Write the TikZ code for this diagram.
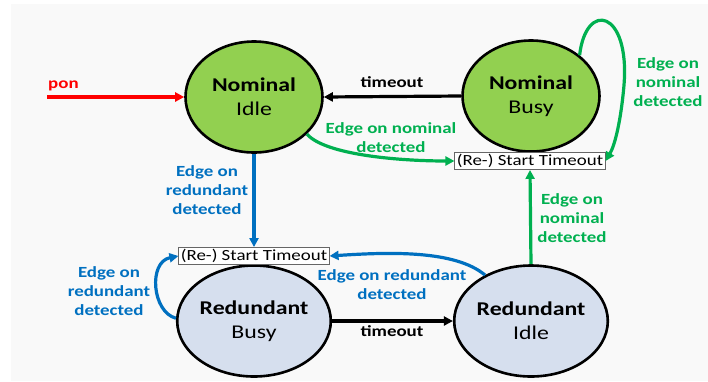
\documentclass[tikz,border=0pt]{standalone}
\usepackage{fontspec}
\setmainfont{Carlito}[FakeStretch=1.22]
\usetikzlibrary{shapes.geometric,arrows.meta}
\definecolor{nomgreen}{HTML}{92D050}
\definecolor{redblue}{HTML}{D6DFEE}
\definecolor{lblblue}{HTML}{0070C0}
\definecolor{lblgreen}{HTML}{00B050}
\definecolor{bggray}{HTML}{F9F9F9}
\tikzset{
  state/.style={ellipse, draw=black, line width=2.6pt, minimum width=137pt, minimum height=111pt, inner sep=0pt, align=center, font=\fontsize{19.5}{23.6}\selectfont},
  nomstate/.style={state, fill=nomgreen},
  redstate/.style={state, fill=redblue},
  timerbox/.style={draw=black!60, line width=0.9pt, fill=white, inner xsep=2pt, inner ysep=0pt, minimum height=17pt, font=\fontsize{15.5}{19}\selectfont},
  lbl/.style={align=center, font=\fontsize{15.5}{19}\selectfont\bfseries, inner sep=0pt},
  conn/.style={line width=3.2pt, -{Triangle[length=9pt,width=9pt]}},
}
\begin{document}
\begin{tikzpicture}[x=1pt,y=-1pt]
\useasboundingbox (0,0) rectangle (708,381);
\fill[bggray] (11,4) rectangle (708,381);
% states
\node[nomstate] (ni) at (254,97) {\textbf{Nominal}\\Idle};
\node[nomstate] (nb) at (531,96) {\textbf{Nominal}\\Busy};
\node[redstate] (rb) at (254,321) {\textbf{Redundant}\\Busy};
\node[redstate] (ri) at (531,321) {\textbf{Redundant}\\Idle};
% boxes
\node[timerbox] (tb1) at (530,161) {(Re-) Start Timeout};
\node[timerbox] (tb2) at (254,256) {(Re-) Start Timeout};
% pon
\coordinate (ponS) at (47,97);
\draw[conn, red] (ponS) -- (ni.west);
\node[lbl, red, anchor=base west] (ponL) at (48,88) {pon};
% timeouts
\draw[conn, black] (nb.west) -- (ni.east);
\node[lbl, anchor=base] (toT) at (392,87) {timeout};
\draw[conn, black] (rb.east) -- (ri.west);
\node[lbl, anchor=base] (toB) at (392,336) {timeout};
% blue
\draw[conn, lblblue] (ni.south) -- (tb2.north);
\node[lbl, lblblue] (lb1) at (207,190) {Edge on\\redundant\\detected};
\draw[conn, lblblue] (rb.178) .. controls (152,312) and (148,262) .. (tb2.west);
\node[lbl, lblblue] (lb2) at (109,291) {Edge on\\redundant\\detected};
\draw[conn, lblblue] (ri.135) .. controls (455,250) and (390,252) .. (tb2.east);
\node[lbl, lblblue] (lb3) at (392,285) {Edge on redundant\\detected};
% green
\draw[conn, lblgreen] (ri.north) -- (tb1.south);
\node[lbl, lblgreen] (lg1) at (572,218) {Edge on\\nominal\\detected};
\draw[conn, lblgreen] (ni.-35) .. controls (325,155) and (400,161) .. (tb1.west);
\node[lbl, lblgreen] (lg2) at (391,138) {Edge on nominal\\detected};
\draw[conn, lblgreen] (nb.40.5) .. controls (586,0) and (630,10) .. (624,85) .. controls (621,120) and (615,145) .. (tb1.east);
\node[lbl, lblgreen] (lg3) at (668,82) {Edge on\\nominal\\detected};
\end{tikzpicture}
\end{document}
